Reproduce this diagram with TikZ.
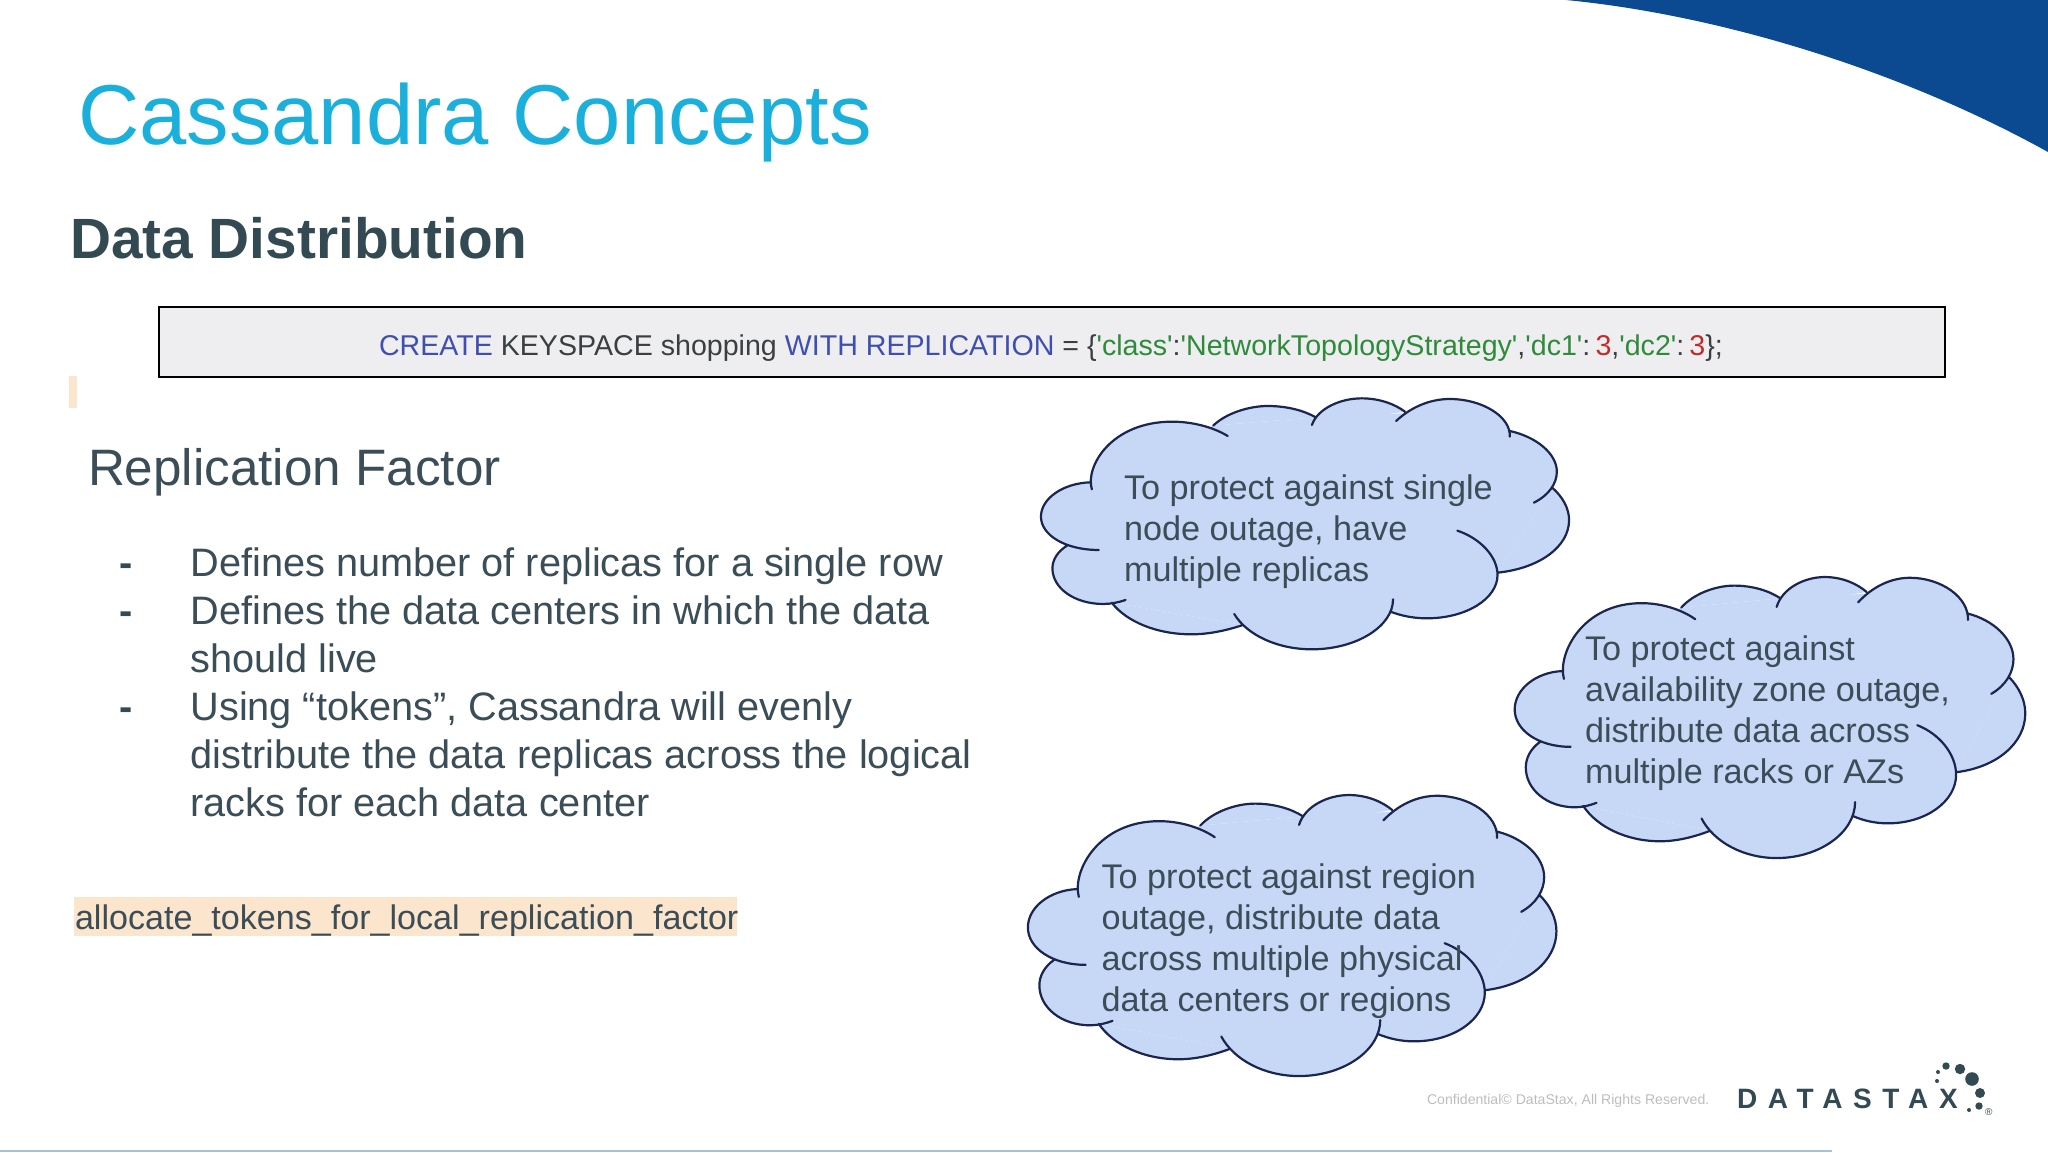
\documentclass[tikz,border=0pt]{standalone}
\usepackage{fontspec}
\setmainfont{Liberation Sans}
\definecolor{inktext}{HTML}{3B4D57}
\definecolor{titlecol}{HTML}{1BB0DC}
\definecolor{heavy}{HTML}{334A52}
\definecolor{cloudfill}{HTML}{C6D8F6}
\definecolor{cloudline}{HTML}{1A2550}
\definecolor{corner}{HTML}{0B4A91}
\definecolor{peach}{HTML}{FCE5CD}
\definecolor{boxfill}{HTML}{EEEEF0}
\definecolor{kwblue}{HTML}{3F4FAF}
\definecolor{strgreen}{HTML}{2E8B3A}
\definecolor{numred}{HTML}{C62828}
\definecolor{kwdark}{HTML}{3A3F42}
\definecolor{footgrey}{HTML}{BDBDBD}
\definecolor{rulecol}{HTML}{A9C0D6}
\newcommand\fsz[2]{\fontsize{#1}{#2}\selectfont}
\newcommand\sq{\textquotesingle}
\newcommand\lobes{
 (240,328) .. controls (222,260) and (290,125) .. (450,125) .. controls (500,125) and (555,140) .. (595,168)
 (557,137) .. controls (590,100) and (650,78) .. (700,78) .. controls (750,78) and (795,92) .. (825,112)
 (815,135) .. controls (830,85) and (890,55) .. (945,55) .. controls (995,55) and (1035,75) .. (1058,95)
 (1035,123) .. controls (1075,80) and (1125,57) .. (1175,57) .. controls (1260,57) and (1335,110) .. (1332,170)
 (1332,153) .. controls (1400,170) and (1455,220) .. (1455,275) .. controls (1455,310) and (1435,345) .. (1395,368)
 (1442,322) .. controls (1470,350) and (1487,385) .. (1487,420) .. controls (1487,500) and (1410,565) .. (1300,578)
 (1195,452) .. controls (1255,475) and (1300,530) .. (1300,585) .. controls (1300,655) and (1220,715) .. (1115,715) .. controls (1082,715) and (1050,708) .. (1020,695)
 (1027,658) .. controls (1027,740) and (930,808) .. (815,808) .. controls (725,808) and (645,765) .. (612,702)
 (635,735) .. controls (590,752) and (545,763) .. (500,763) .. controls (410,763) and (330,725) .. (292,668)
 (328,660) .. controls (310,667) and (290,672) .. (270,672) .. controls (195,672) and (137,625) .. (137,565) .. controls (137,540) and (150,515) .. (175,497)
 (258,510) .. controls (170,510) and (107,465) .. (107,410) .. controls (107,355) and (165,310) .. (235,307)
}
\newcommand\cloudshape[4]{%
 \begin{scope}[shift={(#1,#2)},xscale=#3,yscale=#4]
  \fill[cloudfill] (235,307) -- (557,137) -- (825,112) -- (1050,100) -- (1332,153) -- (1442,322) -- (1300,578) -- (1020,695) -- (635,735) -- (292,668) -- (175,497) -- cycle;
  \fill[cloudfill] \lobes;
  \draw[cloudline,line width=2.2pt,line cap=round] \lobes;
 \end{scope}}
\tikzset{
 txt/.style={inner sep=0pt,outer sep=0pt,anchor=base west,align=left},
 body/.style={txt,text=inktext,font=\fsz{39.7}{48}},
 bulletdash/.style={txt,text=heavy,font=\fsz{39.7}{48}\bfseries},
 cloudtext/.style={txt,text=inktext,font=\fsz{34.2}{41}},
}
\begin{document}
\begin{tikzpicture}[x=1pt,y=-1pt]
\useasboundingbox (0,0) rectangle (2048,1152);
\fill[white] (0,0) rectangle (2048,1152);
% corner swoosh
\fill[corner] (1566,0) .. controls (1720,15) and (1900,70) .. (2048,152) -- (2048,0) -- cycle;
% bottom rule
\fill[rulecol] (0,1150) rectangle (1832,1152);
% title
\node[txt,text=titlecol,font=\fsz{85}{90}] (title) at (78,144) {Cassandra Concepts};
\node[txt,text=heavy,font=\fsz{56.8}{60}\bfseries] (sub) at (70,258) {Data Distribution};
% code box
\node[draw=black,line width=2pt,fill=boxfill,minimum width=1786pt,minimum height=70pt,anchor=north west,inner sep=0pt] (codebox) at (158,306) {};
\node[txt,font=\fsz{28.6}{34}] (code) at (379,355) {\textcolor{kwblue}{CREATE} \textcolor{kwdark}{KEYSPACE shopping} \textcolor{kwblue}{WITH REPLICATION} \textcolor{kwdark}{= \{}\textcolor{strgreen}{\sq class\sq}\textcolor{kwdark}{:}\textcolor{strgreen}{\sq NetworkTopologyStrategy\sq}\textcolor{kwdark}{,}\textcolor{strgreen}{\sq dc1\sq}\textcolor{kwdark}{:}\hspace{0.18em}\textcolor{numred}{3}\textcolor{kwdark}{,}\textcolor{strgreen}{\sq dc2\sq}\textcolor{kwdark}{:}\hspace{0.18em}\textcolor{numred}{3}\textcolor{kwdark}{\};}};
% peach marks
\fill[peach] (69,376) rectangle (77,408);
\fill[peach] (74,897) rectangle (737,936);
% left column
\node[txt,text=inktext,font=\fsz{51.2}{55}] (rf) at (88,485) {Replication Factor};
\node[bulletdash] (d1) at (119,576) {-};
\node[bulletdash] (d2) at (119,624) {-};
\node[bulletdash] (d3) at (119,720) {-};
\node[body] (b1) at (190.5,576) {Defines number of replicas for a single row};
\node[body] (b2) at (190.5,624) {Defines the data centers in which the data};
\node[body] (b3) at (190.5,672) {should live};
\node[body] (b4) at (190.5,720) {Using “tokens”, Cassandra will evenly};
\node[body] (b5) at (190.5,768) {distribute the data replicas across the logical};
\node[body] (b6) at (190.5,816) {racks for each data center};
\node[txt,text=inktext,font=\fsz{34.1}{40}] (alloc) at (75,929) {allocate\_tokens\_for\_local\_replication\_factor};
% clouds
\cloudshape{1000}{380}{0.3827}{0.3333}
\cloudshape{1475.1}{556.5}{0.370}{0.3732}
\cloudshape{986.9}{774.5}{0.383}{0.3732}
\node[cloudtext] (c1a) at (1124,499) {To protect against single};
\node[cloudtext] (c1b) at (1124,540) {node outage, have};
\node[cloudtext] (c1c) at (1124,581) {multiple replicas};
\node[cloudtext] (c2a) at (1585,660) {To protect against};
\node[cloudtext] (c2b) at (1585,701) {availability zone outage,};
\node[cloudtext] (c2c) at (1585,742) {distribute data across};
\node[cloudtext] (c2d) at (1585,783) {multiple racks or AZs};
\node[cloudtext] (c3a) at (1101.5,888) {To protect against region};
\node[cloudtext] (c3b) at (1101.5,929) {outage, distribute data};
\node[cloudtext] (c3c) at (1101.5,970) {across multiple physical};
\node[cloudtext] (c3d) at (1101.5,1011) {data centers or regions};
% footer
\node[txt,text=footgrey,font=\fsz{14.1}{15}] (foot) at (1427,1104) {Confidential© DataStax, All Rights Reserved.};
\node[txt,text=heavy,font=\fsz{28}{30}\bfseries\addfontfeatures{LetterSpace=38}] (logo) at (1737,1108) {DATASTAX};
\foreach \cx/\cy/\r in {1946/1066/3.7,1960/1069/5.2,1972/1079/6.8,1980/1093/5,1979/1106/3.7,1969/1110/2,1938/1072/2,1937/1081/2}
 \fill[heavy] (\cx,\cy) circle (\r);
\node[txt,text=heavy,font=\fsz{10}{11}] (reg) at (1985,1115) {®};
\end{tikzpicture}
\end{document}
